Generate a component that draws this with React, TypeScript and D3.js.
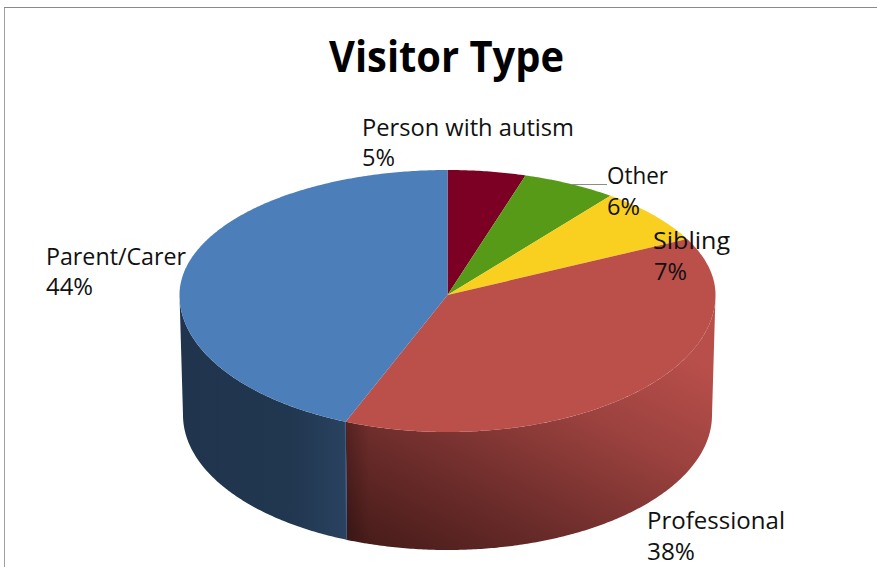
import React from "react";
import * as d3 from "d3";

const categories = ["Person with autism", "Other", "Sibling", "Professional", "Parent/Carer"];
const shares = [4.7, 5.7, 7.2, 38.6, 43.8];
const percentLabels = ["5%", "6%", "7%", "38%", "44%"];
const sliceColors = ["#7b0023", "#579a18", "#fad020", "#bb4f4a", "#4c7eb9"];
const labelAnchors: [number, number, number, number, number, number][] = [
  [362, 136, 212, 362, 166, 33],
  [607, 184, 61, 607, 215, 33],
  [653, 249, 77, 654, 280, 33],
  [647, 529, 138, 647, 560, 48],
  [46, 265, 140, 46, 295, 47],
];

const W = 877;
const H = 567;
const top = { cx: 447.5, cy: 295, rx: 268, ryUp: 125, ryDown: 137 };
const bottom = { cx: 447.5, cy: 415, rx: 264.5, ryUp: 125, ryDown: 135 };
type Ell = typeof top;

const pt = (e: Ell, a: number): [number, number] => {
  const c = Math.cos(a);
  return [e.cx + e.rx * Math.sin(a), e.cy - (c >= 0 ? e.ryUp : e.ryDown) * c];
};
const samples = (a0: number, a1: number) => {
  const n = Math.max(2, Math.ceil((a1 - a0) / 0.01));
  return d3.range(n + 1).map((i) => a0 + ((a1 - a0) * i) / n);
};
const line = d3.line<[number, number]>().x((d) => d[0]).y((d) => d[1]);

export default function App() {
  const arcs = d3.pie<number>().sort(null).value((d) => d)(shares);
  const frontStart = Math.PI / 2;
  const frontEnd = (3 * Math.PI) / 2;
  const sides = arcs
    .map((a, i) => ({ i, a0: Math.max(a.startAngle, frontStart), a1: Math.min(a.endAngle, frontEnd) }))
    .filter((s) => s.a1 > s.a0)
    .map((s) => {
      const up = samples(s.a0, s.a1).map((a) => pt(top, a));
      const low = samples(s.a0, s.a1).reverse().map((a) => pt(bottom, a));
      return { ...s, d: line([...up, ...low])! + "Z" };
    });
  const seamX = pt(top, arcs[3].endAngle)[0];
  const seamBottom = pt(bottom, arcs[3].endAngle);
  const seamTop = pt(top, arcs[3].endAngle);

  return (
    <svg
      width={W}
      height={H}
      viewBox={`0 0 ${W} ${H}`}
      style={{ position: "absolute", left: 0, top: 0, background: "#fff" }}
      fontFamily="'Open Sans', 'Noto Sans', sans-serif"
    >
      <defs>
        <linearGradient id="redSide" gradientUnits="userSpaceOnUse" x1={660} y1={340} x2={522} y2={616}>
          <stop offset="0" stopColor="#b94f4b" />
          <stop offset="0.32" stopColor="#9c423f" />
          <stop offset="0.71" stopColor="#6b2c2a" />
          <stop offset="1" stopColor="#4a1d1b" />
        </linearGradient>
        <linearGradient id="blueSide" gradientUnits="userSpaceOnUse" x1={180} y1={0} x2={345} y2={0}>
          <stop offset="0" stopColor="#20344d" />
          <stop offset="0.65" stopColor="#21364f" />
          <stop offset="1" stopColor="#29425f" />
        </linearGradient>
        <linearGradient id="seamShade" gradientUnits="userSpaceOnUse" x1={seamX} y1={0} x2={seamX + 24} y2={0}>
          <stop offset="0" stopColor="#000" stopOpacity={0.22} />
          <stop offset="1" stopColor="#000" stopOpacity={0} />
        </linearGradient>
      </defs>

      <path d={`M4.5,${H}V7.5H${W}`} fill="none" stroke="#a0a0a0" strokeWidth={1} />
      <path d={`M4,7.5H${W}`} fill="none" stroke="#8a8a8a" strokeWidth={1} />

      {sides.map((s) => (
        <g key={s.i}>
          <path d={s.d} fill={s.i === 3 ? "url(#redSide)" : "url(#blueSide)"} />
          {s.i === 3 && <path d={s.d} fill="url(#seamShade)" />}
        </g>
      ))}
      <line x1={seamTop[0] - 0.5} y1={seamTop[1]} x2={seamBottom[0] - 0.5} y2={seamBottom[1]} stroke="#3a608a" strokeWidth={1} />

      {arcs.map((a, i) => {
        const rim = samples(a.startAngle, a.endAngle).map((t) => pt(top, t));
        return <path key={i} d={line([[top.cx, top.cy], ...rim])! + "Z"} fill={sliceColors[i]} />;
      })}

      <line x1={571} y1={184.5} x2={607} y2={184.5} stroke="#8c8c8c" strokeWidth={1} />

      <text x={329} y={72} fontSize={43} fontWeight={700} textLength={235} lengthAdjust="spacingAndGlyphs" fill="#000">
        Visitor Type
      </text>

      {categories.map((c, i) => {
        const [x1, y1, w1, x2, y2, w2] = labelAnchors[i];
        return (
          <g key={c} fontSize={24} fill="#111">
            <text x={x1} y={y1} textLength={w1} lengthAdjust="spacingAndGlyphs">{c}</text>
            <text x={x2} y={y2} textLength={w2} lengthAdjust="spacingAndGlyphs">{percentLabels[i]}</text>
          </g>
        );
      })}
    </svg>
  );
}
